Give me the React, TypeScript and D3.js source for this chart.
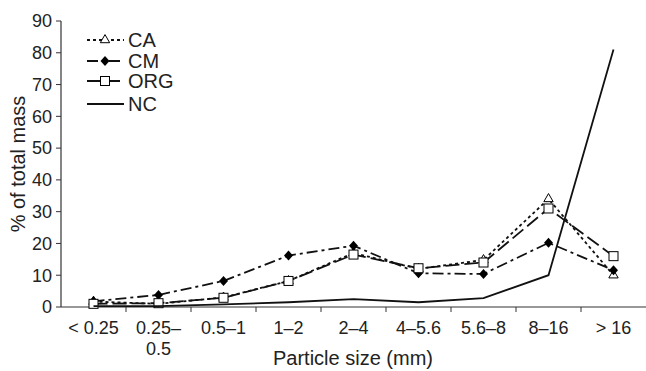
import React from "react";
import * as d3 from "d3";

const categories = ["< 0.25", "0.25–0.5", "0.5–1", "1–2", "2–4", "4–5.6", "5.6–8", "8–16", "> 16"];
const caValues = [1.7, 1.0, 3.0, 8.2, 17.0, 12.0, 14.8, 34.0, 10.0];
const cmValues = [1.8, 3.8, 8.2, 16.2, 19.3, 10.6, 10.4, 20.2, 11.6];
const orgValues = [1.0, 1.2, 2.9, 8.2, 16.5, 12.2, 14.0, 31.0, 16.0];
const ncValues = [0.3, 0.3, 0.8, 1.5, 2.5, 1.5, 2.8, 10.0, 81.0];
const yTicks = [0, 10, 20, 30, 40, 50, 60, 70, 80, 90];

const series = [
  { name: "CA", values: caValues, dash: "3,3", marker: "triangle" },
  { name: "CM", values: cmValues, dash: "11,4,3,4", marker: "diamond" },
  { name: "ORG", values: orgValues, dash: "14,5", marker: "square" },
  { name: "NC", values: ncValues, dash: "", marker: "none" },
];

const W = 646;
const H = 371;
const margin = { left: 61, right: 0, top: 21, bottom: 64 };

export default function App() {
  const x = d3
    .scaleBand()
    .domain(categories)
    .range([margin.left, W - margin.right]);
  const y = d3
    .scaleLinear()
    .domain([0, 90])
    .range([H - margin.bottom, margin.top]);
  const cx = (c: string) => (x(c) as number) + x.bandwidth() / 2;

  const line = d3
    .line<number>()
    .x((_, i) => cx(categories[i]))
    .y((d) => y(d));

  const marker = (kind: string, px: number, py: number, key: string) => {
    if (kind === "triangle") {
      const sym = d3.symbol().type(d3.symbolTriangle).size(38)();
      return <path key={key} d={sym as string} transform={`translate(${px},${py})`} fill="#fff" stroke="#000" strokeWidth={1} />;
    }
    if (kind === "diamond") {
      return (
        <path key={key} d={`M${px},${py - 5}L${px + 4.5},${py}L${px},${py + 5}L${px - 4.5},${py}Z`} fill="#000" />
      );
    }
    if (kind === "square") {
      return <rect key={key} x={px - 4.5} y={py - 4.5} width={9} height={9} fill="#fff" stroke="#000" strokeWidth={1} />;
    }
    return null;
  };

  const font = "Liberation Sans, Arial, sans-serif";
  const legendY = [40, 61, 81, 104];

  return (
    <svg width={W} height={H} style={{ position: "absolute", left: 0, top: 0 }} fontFamily={font}>
      <rect width={W} height={H} fill="#fff" />
      {/* axes */}
      <line x1={margin.left} x2={margin.left} y1={y(90)} y2={y(0)} stroke="#333" strokeWidth={1.2} />
      <line x1={margin.left} x2={W} y1={y(0)} y2={y(0)} stroke="#333" strokeWidth={1.2} />
      {yTicks.map((t) => (
        <g key={t}>
          <line x1={margin.left - 5} x2={margin.left} y1={y(t)} y2={y(t)} stroke="#333" />
          <text x={margin.left - 9} y={y(t)} dy="0.35em" textAnchor="end" fontSize={18} fill="#222">
            {t}
          </text>
        </g>
      ))}
      {categories.slice(1).map((c) => (
        <line key={c} x1={x(c) as number} x2={x(c) as number} y1={y(0)} y2={y(0) + 5} stroke="#333" />
      ))}
      {categories.map((c) => {
        const parts = c === "0.25–0.5" ? ["0.25–", "0.5"] : [c];
        return (
          <text key={c} x={cx(c)} y={y(0) + 27} textAnchor="middle" fontSize={18} fill="#222">
            {parts.map((p, i) => (
              <tspan key={i} x={cx(c)} dy={i === 0 ? 0 : 21}>
                {p}
              </tspan>
            ))}
          </text>
        );
      })}
      <text x={353} y={365} textAnchor="middle" fontSize={20} fill="#222">
        Particle size (mm)
      </text>
      <text transform={`translate(25,${y(45)}) rotate(-90)`} textAnchor="middle" fontSize={20} fill="#222">
        % of total mass
      </text>
      {/* lines */}
      {series.map((s) => (
        <g key={s.name}>
          <path d={line(s.values) as string} fill="none" stroke="#111" strokeWidth={1.8} strokeDasharray={s.dash} />
          {s.values.map((v, i) => marker(s.marker, cx(categories[i]), y(v), s.name + i))}
        </g>
      ))}
      {/* legend */}
      {series.map((s, i) => (
        <g key={s.name}>
          <line x1={87} x2={124} y1={legendY[i]} y2={legendY[i]} stroke="#111" strokeWidth={1.8} strokeDasharray={s.dash} />
          {marker(s.marker, 105, legendY[i], "lg" + i)}
          <text x={128} y={legendY[i]} dy="0.35em" fontSize={20} fill="#222">
            {s.name}
          </text>
        </g>
      ))}
    </svg>
  );
}
